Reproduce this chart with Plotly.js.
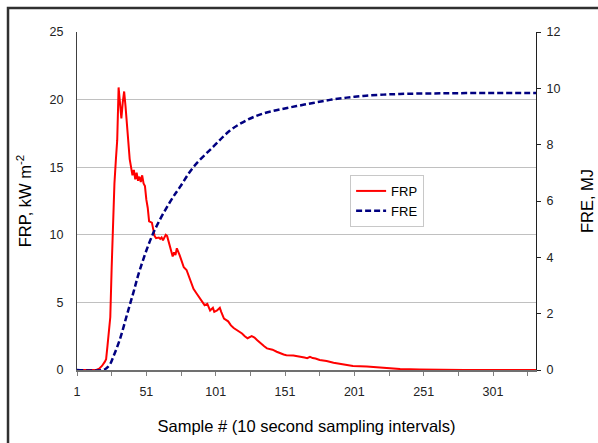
<!DOCTYPE html>
<html>
<head>
<meta charset="utf-8">
<script src="https://cdn.plot.ly/plotly-3.0.1.min.js"></script>
<style>html,body{margin:0;padding:0;background:#fff;}#chart{width:598px;height:443px;}</style>
</head>
<body>
<div id="chart"></div>
<script>
// FRP (kW m-2), at sample numbers
const frpSamples = [1,10,15,17,19,21,22,23,24,25,26,27,28,29,30,31,32,33,34,35,36,37,39,41,42,43,44,45,46,47,48,49,50,51,52,53,55,56,57,58,60,61,62,63,65,66,67,68,69,70,71,72,73,74,75,76,78,80,82,84,85,87,90,92,93,95,96,97,99,100,102,104,105,107,110,112,114,117,120,122,124,127,129,131,133,136,138,142,145,147,150,152,155,157,160,162,165,167,169,171,173,176,181,186,193,200,210,222,234,248,263,280,332];
const frpValues  = [0,0,0,0.1,0.3,0.6,0.8,1.8,2.8,3.9,7.6,11.0,13.8,15.5,17.0,20.9,19.6,18.6,19.8,20.6,19.5,18.2,15.6,14.4,14.8,14.1,14.6,14.0,14.3,13.9,14.4,13.8,13.6,12.6,12.0,11.0,10.9,10.4,9.9,9.75,9.8,9.7,9.8,9.6,10.0,9.9,9.5,9.1,8.7,8.4,8.7,8.5,9.0,8.8,8.5,8.2,7.6,7.4,6.8,6.2,6.0,5.7,5.2,4.9,4.8,4.9,4.6,4.4,4.6,4.3,4.4,4.6,4.3,3.8,3.6,3.3,3.1,2.9,2.7,2.5,2.35,2.5,2.4,2.2,2.0,1.75,1.6,1.5,1.35,1.25,1.15,1.1,1.12,1.08,1.02,1.0,0.92,0.87,0.98,0.88,0.85,0.74,0.67,0.54,0.42,0.3,0.25,0.15,0.07,0.03,0.01,0,0];

// FRE (MJ), at sample numbers
const freSamples = [1,20,22.4,24.8,27.2,32.0,36.8,41.6,46.4,56.0,68.1,75.3,84.9,99.3,111.3,123.4,135.4,147.4,159.4,171.2,183.4,195.5,207.2,219.5,233.9,257.7,281.5,332];
const freValues  = [0,0,0.07,0.2,0.47,1.1,1.92,2.74,3.57,4.86,5.97,6.5,7.2,7.93,8.5,8.87,9.11,9.25,9.37,9.48,9.59,9.67,9.73,9.77,9.8,9.82,9.83,9.83];

const xTickVals = [1,51,101,151,201,251,301];
const xTickLabels = ["1","51","101","151","201","251","301"];
const seriesNames = ["FRP","FRE"];

const font = "Liberation Sans, Arial, sans-serif";

const traces = [
  {x: frpSamples, y: frpValues, name: seriesNames[0], type: "scatter", mode: "lines",
   line: {color: "#ff0000", width: 2}, yaxis: "y"},
  {x: freSamples, y: freValues, name: seriesNames[1], type: "scatter", mode: "lines",
   line: {color: "#000080", width: 2.5, dash: "6px,3px", shape: "spline", smoothing: 1}, yaxis: "y2"}
];

const layout = {
  width: 598, height: 443,
  margin: {l: 77, r: 62, t: 32, b: 73},
  paper_bgcolor: "#ffffff", plot_bgcolor: "#ffffff",
  font: {family: font, size: 12.5, color: "#000"},
  showlegend: true,
  legend: {x: 0.595, y: 0.577, xanchor: "left", yanchor: "top",
    bgcolor: "#ffffff", bordercolor: "#c8c8c8", borderwidth: 1,
    font: {family: font, size: 13, color: "#000"}, tracegroupgap: 0},
  xaxis: {
    range: [1, 332], showgrid: false, zeroline: false,
    tickvals: xTickVals, ticktext: xTickLabels,
    ticks: "outside", ticklen: 4, tickcolor: "#808080", tickwidth: 1,
    minor: {tickvals: [26,76,126,176,226,276,326], ticks: "outside", ticklen: 4, tickcolor: "#808080", showgrid: false},
    showline: true, linecolor: "#707070", linewidth: 2,
    ticklabelstandoff: 5,
    tickfont: {family: font, size: 12.5, color: "#222"},
    title: {text: "Sample # (10 second sampling intervals)", font: {family: font, size: 16.5, color: "#000"}, standoff: 22}
  },
  yaxis: {
    range: [0, 25], dtick: 5, tick0: 0,
    showgrid: true, gridcolor: "#c0c0c0", gridwidth: 1, zeroline: false,
    showline: true, linecolor: "#404040", linewidth: 1,
    ticks: "", ticklabelstandoff: 10,
    tickfont: {family: font, size: 12.5, color: "#222"},
    title: {text: "FRP, kW m<sup>-2</sup>", font: {family: font, size: 16.5, color: "#000"}, standoff: 13}
  },
  yaxis2: {
    range: [0, 12], dtick: 2, tick0: 0, overlaying: "y", side: "right",
    showgrid: false, zeroline: false,
    showline: true, linecolor: "#202020", linewidth: 1,
    ticks: "outside", ticklen: 4, tickcolor: "#202020",
    ticklabelstandoff: 3,
    tickfont: {family: font, size: 12.5, color: "#222"},
    title: {text: "FRE, MJ", font: {family: font, size: 16.5, color: "#000"}, standoff: 21}
  },
  shapes: [
    {type: "rect", xref: "paper", yref: "paper", x0: -0.1503, x1: 1.3, y0: -0.4, y1: 1.071,
     line: {color: "#303030", width: 2.5}, fillcolor: "rgba(0,0,0,0)", layer: "above"}
  ]
};

Plotly.newPlot("chart", traces, layout, {displayModeBar: false, staticPlot: true});
</script>
</body>
</html>
